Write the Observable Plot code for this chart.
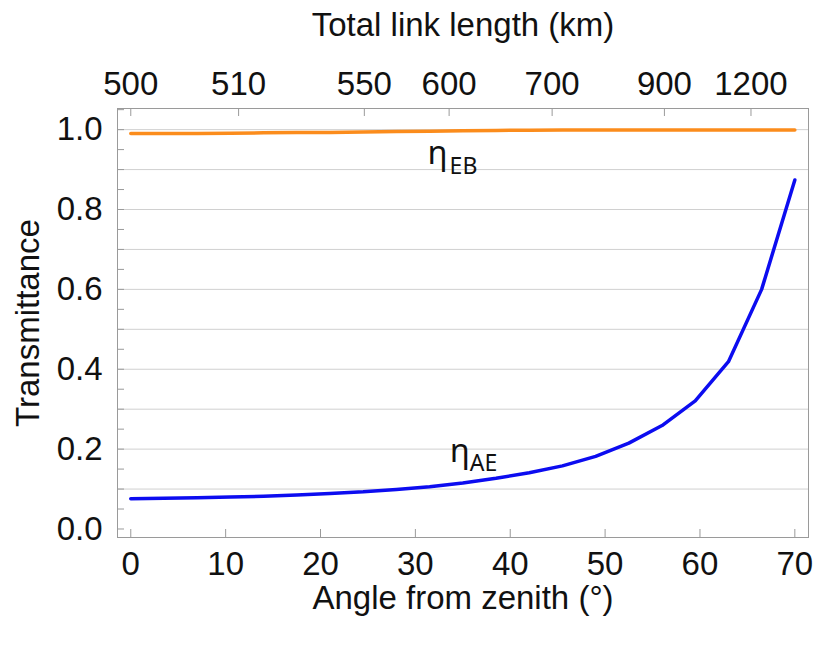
<!DOCTYPE html>
<html>
<head>
<meta charset="utf-8">
<script src="https://cdn.jsdelivr.net/npm/d3@7"></script>
<script src="https://cdn.jsdelivr.net/npm/@observablehq/plot@0.6"></script>
<style>
  html, body { margin: 0; padding: 0; background: #fff; }
</style>
</head>
<body>
<div id="chart"></div>
<script>
// ---- data ----
const angles = [0, 3.5, 7, 10.5, 14, 17.5, 21, 24.5, 28, 31.5, 35, 38.5, 42, 45.5, 49, 52.5, 56, 59.5, 63, 66.5, 70];
const etaAE  = [0.076, 0.077, 0.078, 0.080, 0.082, 0.085, 0.089, 0.093, 0.099, 0.106, 0.115, 0.127, 0.141, 0.158, 0.182, 0.215, 0.259, 0.321, 0.419, 0.600, 0.874];
const etaEB  = [0.990, 0.990, 0.9905, 0.991, 0.992, 0.9925, 0.993, 0.994, 0.995, 0.996, 0.997, 0.998, 0.9985, 0.999, 0.999, 0.999, 0.999, 0.999, 0.999, 0.999, 0.999];
const bottomTicks = [0, 10, 20, 30, 40, 50, 60, 70];
const leftTickLabels = [0, 0.2, 0.4, 0.6, 0.8, 1.0];
const gridLevels = [0.1, 0.2, 0.3, 0.4, 0.5, 0.6, 0.7, 0.8, 0.9, 1.0];
const leftMinorTicks = [0, 0.05, 0.1, 0.15, 0.2, 0.25, 0.3, 0.35, 0.4, 0.45, 0.5, 0.55, 0.6, 0.65, 0.7, 0.75, 0.8, 0.85, 0.9, 0.95, 1.0, 1.05];
const topLinkLengths = [500, 510, 550, 600, 700, 900, 1200];
const seriesNames = {ae: "AE", eb: "EB"};
const titleTop = "Total link length (km)";
const titleBottom = "Angle from zenith (°)";
const titleLeft = "Transmittance";

// ---- derived tables ----
const rows = angles.map((a, i) => ({angle: a, ae: etaAE[i], eb: etaEB[i]}));
const L0 = topLinkLengths[0];
const topAngles = topLinkLengths.map(L => Math.acos(L0 / L) * 180 / Math.PI);
const topLabelOf = new Map(topAngles.map((a, i) => [a, String(topLinkLengths[i])]));

const W = 817, H = 646, mL = 117, mR = 9, mT = 108, mB = 109;
const fw = W - mL - mR, fh = H - mT - mB;
const axisFont = "'Liberation Sans', Arial, Helvetica, sans-serif";
const labelFont = "'Noto Sans', 'DejaVu Sans', sans-serif";
const tickColor = "#9a9a9a";

const ebAnchor = rows.filter(d => d.angle === 31.5);
const aeAnchor = rows.filter(d => d.angle === 35);

const chart = Plot.plot({
  width: W, height: H,
  marginLeft: mL, marginRight: mR, marginTop: mT, marginBottom: mB,
  style: {fontFamily: axisFont, color: "#111", background: "#fff"},
  x: {domain: [-1.40, 71.44], axis: null},
  y: {domain: [-0.0213, 1.0529], axis: null},
  marks: [
    Plot.ruleY(gridLevels, {stroke: "#d0d0d0", strokeWidth: 1}),
    Plot.tickY(leftMinorTicks, {y: d => d, stroke: tickColor, insetRight: fw - 7}),
    Plot.tickX(bottomTicks, {x: d => d, stroke: tickColor, insetTop: fh - 8}),
    Plot.tickX(topAngles, {x: d => d, stroke: tickColor, insetBottom: fh - 8}),
    Plot.frame({stroke: tickColor}),
    Plot.line(rows, {x: "angle", y: "eb", stroke: "#fb8c1c", strokeWidth: 3.5}),
    Plot.line(rows, {x: "angle", y: "ae", stroke: "#0c0cf0", strokeWidth: 3.5}),
    Plot.axisY(leftTickLabels, {anchor: "left", tickSize: 0, tickPadding: 15, fontSize: 33, label: null, tickFormat: d => d.toFixed(1)}),
    Plot.axisX(bottomTicks, {anchor: "bottom", tickSize: 0, tickPadding: 14, fontSize: 33, label: null, tickFormat: d => String(d)}),
    Plot.axisX(topAngles, {anchor: "top", tickSize: 0, tickPadding: 14, fontSize: 33, label: null, tickFormat: d => topLabelOf.get(d)}),
    Plot.text([titleTop], {frameAnchor: "top", lineAnchor: "middle", textAnchor: "middle", dy: -83, fontSize: 33}),
    Plot.text([titleBottom], {frameAnchor: "bottom", lineAnchor: "middle", textAnchor: "middle", dy: 61, fontSize: 33}),
    Plot.text([titleLeft], {frameAnchor: "left", lineAnchor: "middle", textAnchor: "middle", dx: -89, rotate: -90, fontSize: 33}),
    // series labels
    Plot.text(ebAnchor, {x: "angle", y: "eb", text: () => "η", textAnchor: "start", lineAnchor: "bottom", dx: -2, dy: 33, fontSize: 33, fontFamily: labelFont}),
    Plot.text(ebAnchor, {x: "angle", y: "eb", text: () => seriesNames.eb, textAnchor: "start", lineAnchor: "bottom", dx: 20, dy: 42.5, fontSize: 23, fontFamily: labelFont}),
    Plot.text(aeAnchor, {x: "angle", y: "ae", text: () => "η", textAnchor: "start", lineAnchor: "bottom", dx: -13, dy: -21, fontSize: 33, fontFamily: labelFont}),
    Plot.text(aeAnchor, {x: "angle", y: "ae", text: () => seriesNames.ae, textAnchor: "start", lineAnchor: "bottom", dx: 7, dy: -12, fontSize: 23, fontFamily: labelFont})
  ]
});
document.getElementById("chart").appendChild(chart);
</script>
</body>
</html>
